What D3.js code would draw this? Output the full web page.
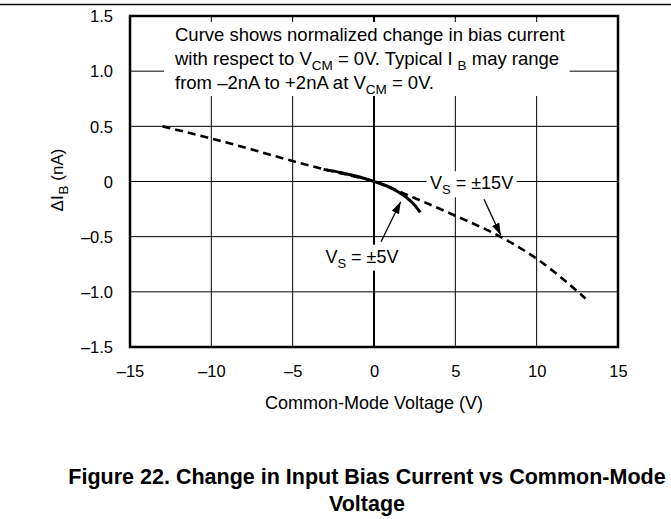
<!DOCTYPE html>
<html>
<head>
<meta charset="utf-8">
<script src="https://cdn.jsdelivr.net/npm/d3@7/dist/d3.min.js"></script>
<style>
  html, body { margin: 0; padding: 0; background: #fff; }
  svg { display: block; }
  text { font-family: "Liberation Sans", Arial, Helvetica, sans-serif; fill: #000; }
</style>
</head>
<body>
<svg id="chart" width="671" height="519"></svg>
<script>
// ---- data ----
const xTicks = [-15, -10, -5, 0, 5, 10, 15];
const xTickLabels = ["\u201315", "\u201310", "\u20135", "0", "5", "10", "15"];
const yTicks = [-1.5, -1.0, -0.5, 0, 0.5, 1.0, 1.5];
const yTickLabels = ["\u20131.5", "\u20131.0", "\u20130.5", "0", "0.5", "1.0", "1.5"];

// Vs = ±15V (dashed)
const vs15X = [-13, -10, -7.5, -5, -2.5, 0, 2.5, 5, 7.5, 8.5, 10, 11.5, 13];
const vs15Y = [0.50, 0.39, 0.29, 0.185, 0.09, 0.0, -0.15, -0.31, -0.48, -0.56, -0.70, -0.87, -1.06];

// Vs = ±5V (solid)
const vs5X = [-3.1, -2, -1, 0, 0.5, 1.0, 1.5, 2.0, 2.5, 2.85];
const vs5Y = [0.11, 0.08, 0.045, 0.0, -0.025, -0.055, -0.095, -0.145, -0.215, -0.28];

// annotation arrows (data units): [x1, y1, x2(tip), y2(tip)]
const arrow5 = [0.43, -0.546, 1.64, -0.183];
const arrow15 = [6.76, -0.161, 7.79, -0.486];
const label5Pos = [-0.74, -0.736];
const label15Pos = [6.0, -0.071];

// ---- layout ----
const W = 671, H = 519;
const plot = { left: 130, right: 618, top: 16, bottom: 347 };
const svg = d3.select("#chart");

const x = d3.scaleLinear().domain([-15, 15]).range([plot.left, plot.right]);
const y = d3.scaleLinear().domain([-1.5, 1.5]).range([plot.bottom, plot.top]);

// top rule
svg.append("line")
  .attr("x1", 0).attr("x2", W).attr("y1", 4.5).attr("y2", 4.5)
  .attr("stroke", "#000").attr("stroke-width", 1.5);

// arrow marker
svg.append("defs").append("marker")
  .attr("id", "arr").attr("viewBox", "0 0 12 8")
  .attr("refX", 12).attr("refY", 4)
  .attr("markerWidth", 12).attr("markerHeight", 8)
  .attr("markerUnits", "userSpaceOnUse")
  .attr("orient", "auto")
  .append("path").attr("d", "M0,0 L12,4 L0,8 Z").attr("fill", "#000");

// gridlines
const grid = svg.append("g");
grid.selectAll("line.v").data(xTicks.slice(1, -1)).join("line")
  .attr("x1", d => x(d)).attr("x2", d => x(d))
  .attr("y1", plot.top).attr("y2", plot.bottom)
  .attr("stroke", "#000").attr("stroke-width", d => d === 0 ? 2 : 1);
grid.selectAll("line.h").data(yTicks.slice(1, -1)).join("line")
  .attr("x1", plot.left).attr("x2", plot.right)
  .attr("y1", d => y(d)).attr("y2", d => y(d))
  .attr("stroke", "#000").attr("stroke-width", 1);

// curves
const line = d3.line().x(d => x(d[0])).y(d => y(d[1])).curve(d3.curveMonotoneX);
svg.append("path")
  .datum(vs15X.map((v, i) => [v, vs15Y[i]]))
  .attr("d", line).attr("fill", "none")
  .attr("stroke", "#000").attr("stroke-width", 2.6)
  .attr("stroke-dasharray", "8,5");
svg.append("path")
  .datum(vs5X.map((v, i) => [v, vs5Y[i]]))
  .attr("d", line).attr("fill", "none")
  .attr("stroke", "#000").attr("stroke-width", 3);

// frame
svg.append("rect")
  .attr("x", plot.left).attr("y", plot.top)
  .attr("width", plot.right - plot.left).attr("height", plot.bottom - plot.top)
  .attr("fill", "none").attr("stroke", "#000").attr("stroke-width", 2.5);

// text helper with subscripts
const SUB_SHIFT = 5;
function addLine(g, xx, yy, parts, fs, fsSub) {
  const t = g.append("text").attr("x", xx).attr("y", yy).attr("font-size", fs);
  let pending = 0;
  parts.forEach(p => {
    if (typeof p === "string") {
      const ts = t.append("tspan").text(p);
      if (pending) { ts.attr("dy", pending); pending = 0; }
    } else {
      t.append("tspan").attr("font-size", fsSub).attr("dy", SUB_SHIFT).attr("dx", p.dx || 0).text(p.sub);
      pending = -SUB_SHIFT;
    }
  });
  return t;
}

// note box
const note = svg.append("g");
const noteBg = note.append("rect").attr("fill", "#fff");
const noteText = note.append("g");
const fsNote = 18.5, fsSub = 13.5;
addLine(noteText, 175, 41, ["Curve shows normalized change in bias current"], fsNote, fsSub);
addLine(noteText, 175, 65, ["with respect to V", {sub: "CM"}, " = 0V. Typical I", {sub: "B", dx: 5}, " may range"], fsNote, fsSub);
addLine(noteText, 175, 89, ["from \u20132nA to +2nA at V", {sub: "CM"}, " = 0V."], fsNote, fsSub);
const nb = noteText.node().getBBox();
noteBg.attr("x", nb.x - 10).attr("y", nb.y - 2)
  .attr("width", nb.width + 15).attr("height", nb.height + 1);

// series labels with white background
function seriesLabel(pos, parts) {
  const g = svg.append("g");
  const bg = g.append("rect").attr("fill", "#fff");
  const t = addLine(g, x(pos[0]), y(pos[1]), parts, 18, 13).attr("text-anchor", "middle");
  const b = t.node().getBBox();
  bg.attr("x", b.x - 3.5).attr("y", b.y - 2).attr("width", b.width + 7).attr("height", b.height + 2);
  return g;
}
seriesLabel(label15Pos, ["V", {sub: "S"}, " = \u00b115V"]);
seriesLabel(label5Pos, ["V", {sub: "S"}, " = \u00b15V"]);

// arrows
[arrow5, arrow15].forEach(a => {
  svg.append("line")
    .attr("x1", x(a[0])).attr("y1", y(a[1]))
    .attr("x2", x(a[2])).attr("y2", y(a[3]))
    .attr("stroke", "#000").attr("stroke-width", 1.3)
    .attr("marker-end", "url(#arr)");
});

// axes
const xAxis = svg.append("g").attr("transform", `translate(0,${plot.bottom})`)
  .call(d3.axisBottom(x).tickValues(xTicks).tickFormat((d, i) => xTickLabels[i]).tickSize(0).tickPadding(18));
xAxis.select(".domain").remove();
xAxis.attr("font-family", null).attr("font-size", null);
xAxis.selectAll("text").attr("font-size", 16.5).attr("fill", "#000");

const yAxis = svg.append("g").attr("transform", `translate(${plot.left},0)`)
  .call(d3.axisLeft(y).tickValues(yTicks).tickFormat((d, i) => yTickLabels[i]).tickSize(0).tickPadding(17));
yAxis.select(".domain").remove();
yAxis.attr("font-family", null).attr("font-size", null);
yAxis.selectAll("text").attr("font-size", 16.5).attr("fill", "#000").attr("dy", "0.35em");

// axis titles
svg.append("text")
  .attr("x", (plot.left + plot.right) / 2).attr("y", 409)
  .attr("text-anchor", "middle").attr("font-size", 18)
  .text("Common-Mode Voltage (V)");

const ytG = svg.append("g").attr("transform", "translate(63,180) rotate(-90)");
addLine(ytG, 0, 0, ["\u0394I", {sub: "B", dx: 1}, " (nA)"], 17, 13.5).attr("text-anchor", "middle");

// figure title
svg.append("text")
  .attr("x", 367).attr("y", 484)
  .attr("text-anchor", "middle").attr("font-size", 21.5).attr("font-weight", "bold")
  .text("Figure 22. Change in Input Bias Current vs Common-Mode");
svg.append("text")
  .attr("x", 367).attr("y", 511)
  .attr("text-anchor", "middle").attr("font-size", 21.5).attr("font-weight", "bold")
  .text("Voltage");
</script>
</body>
</html>
